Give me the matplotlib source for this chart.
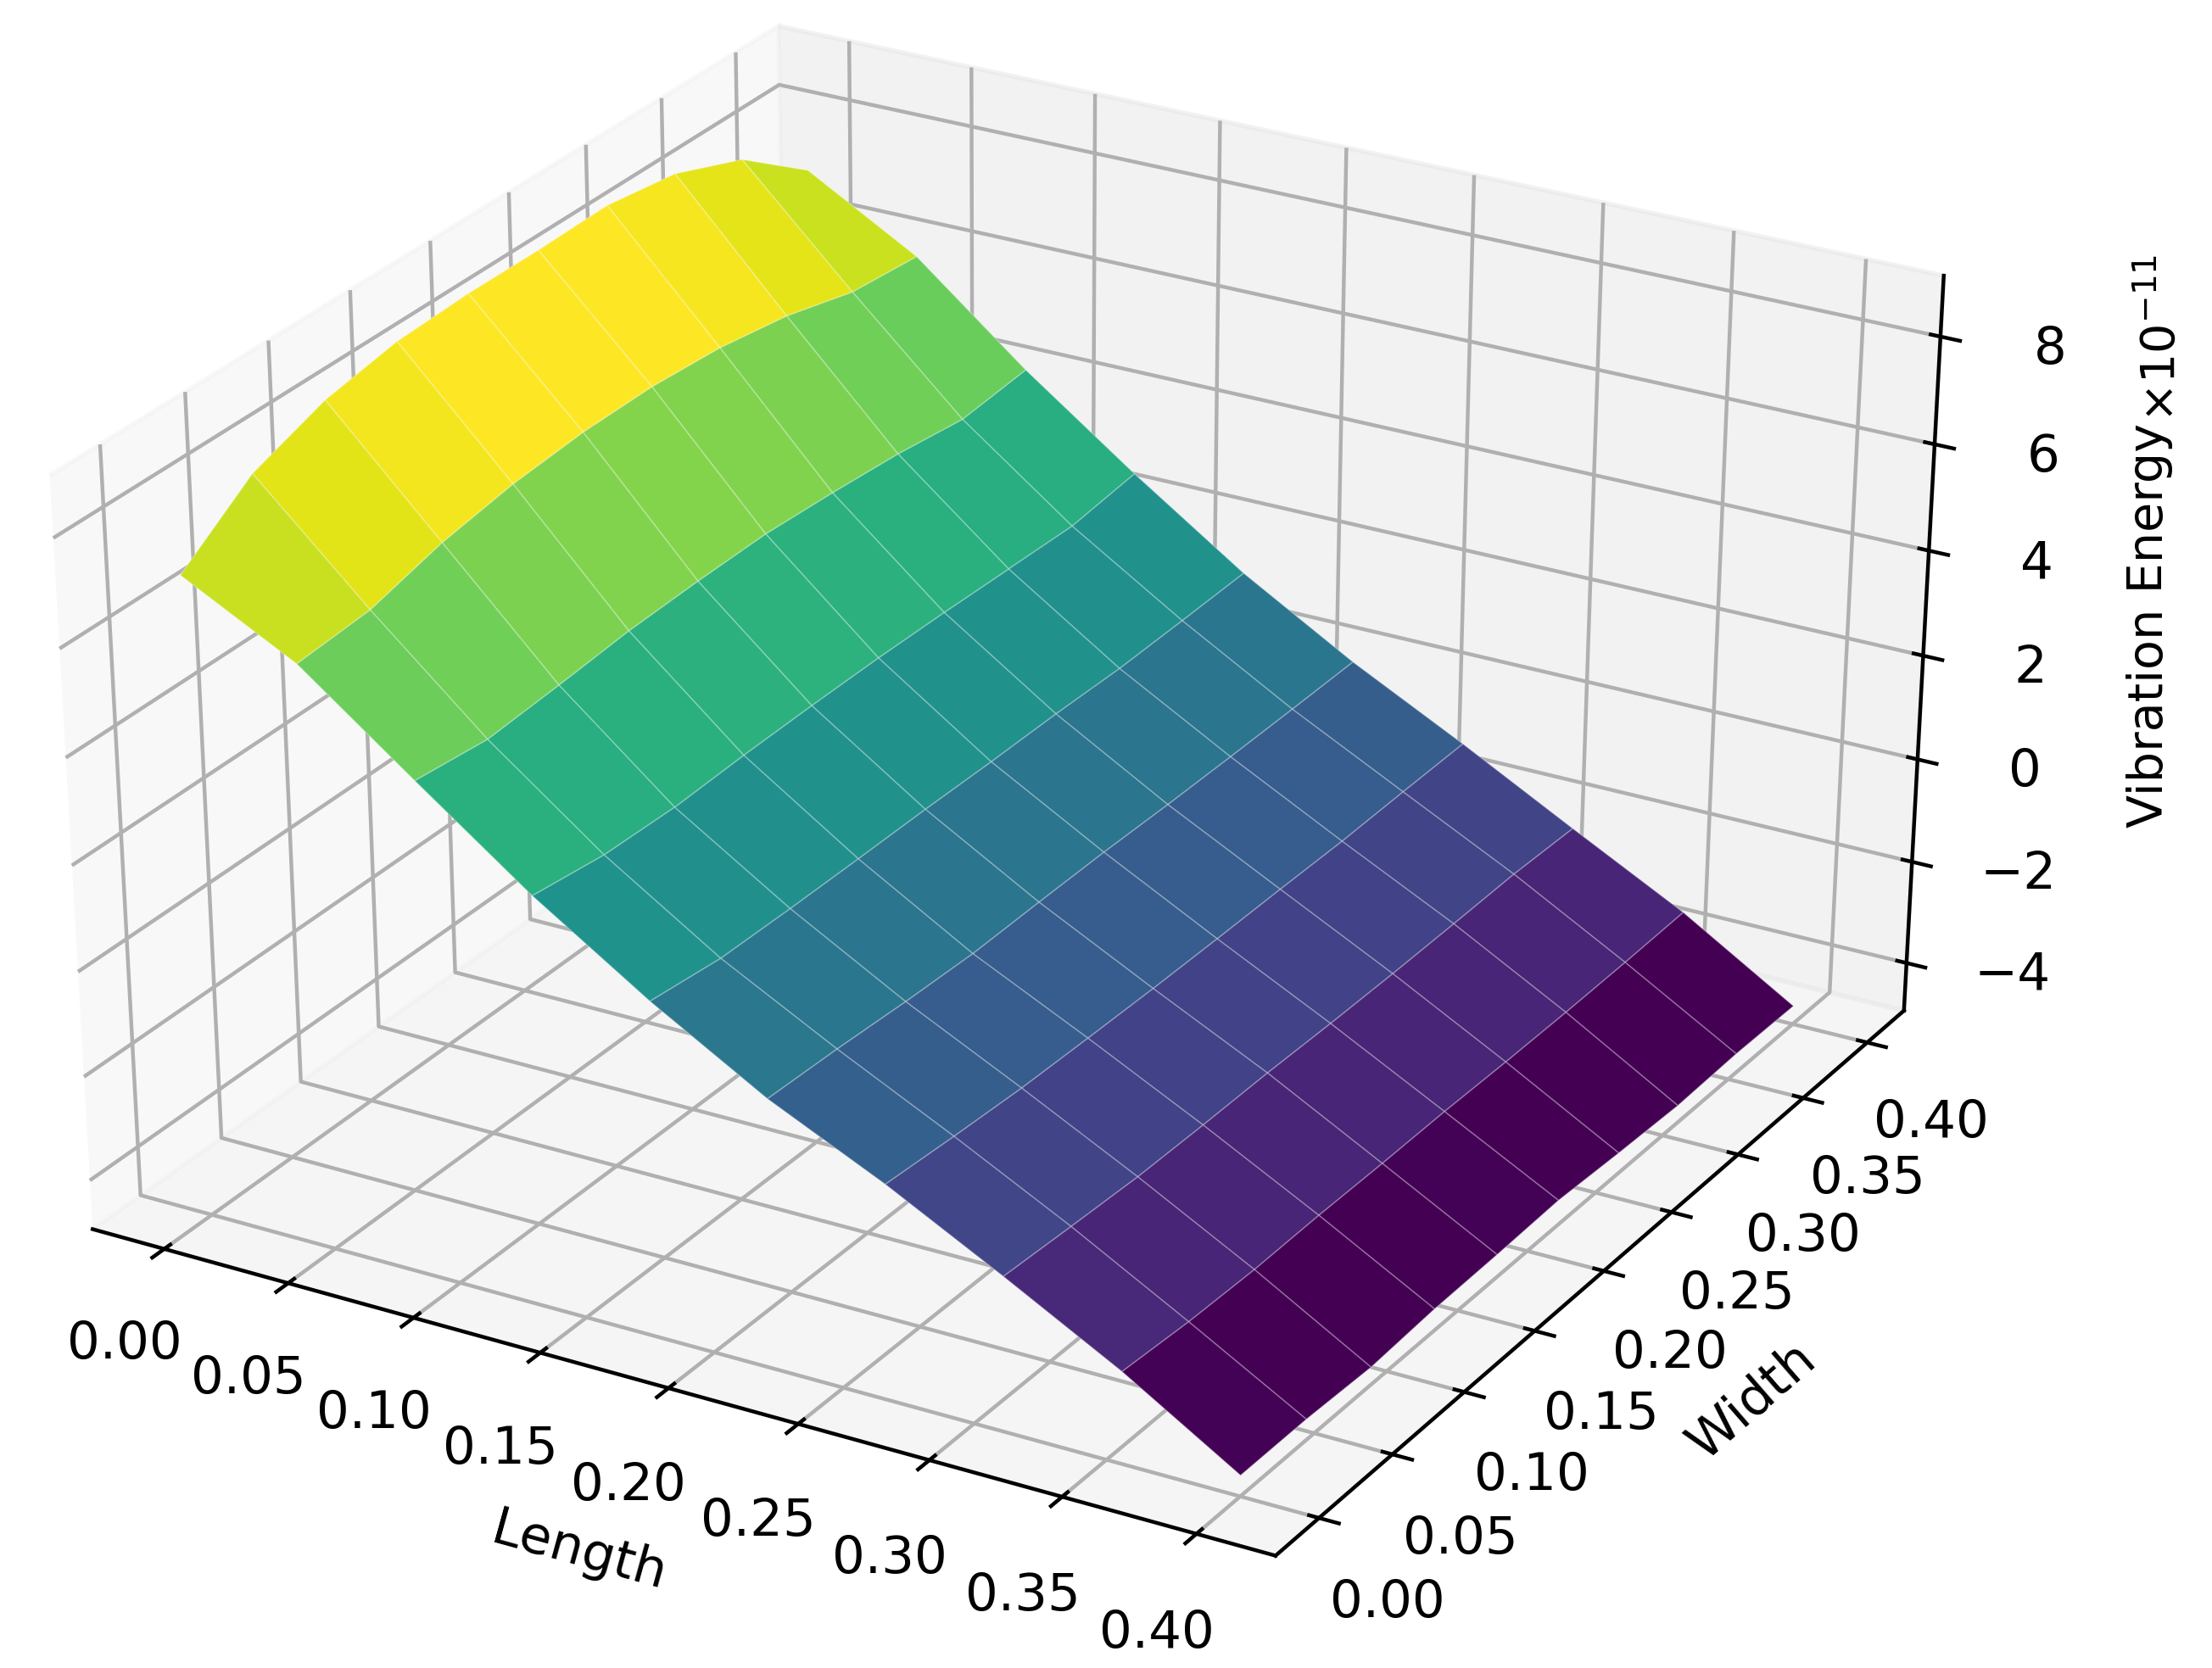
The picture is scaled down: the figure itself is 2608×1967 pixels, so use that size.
import numpy as np
from matplotlib import pyplot as plt

length = [0.0, 0.0444, 0.0889, 0.1333, 0.1778, 0.2222, 0.2667, 0.3111, 0.3556, 0.4]
width = [0.0, 0.0444, 0.0889, 0.1333, 0.1778, 0.2222, 0.2667, 0.3111, 0.3556, 0.4]

# energy (x 1e-11), one list per length value, running along width
energy_l0 = [7.09, 8.07, 8.56, 8.80, 8.86, 8.85, 8.88, 8.68, 8.16, 7.17]
energy_l1 = [5.99, 6.09, 6.45, 6.67, 6.78, 6.79, 6.69, 6.47, 6.11, 5.98]
energy_l2 = [4.38, 4.23, 4.33, 4.45, 4.50, 4.52, 4.44, 4.33, 4.15, 4.27]
energy_l3 = [2.80, 2.62, 2.58, 2.64, 2.67, 2.68, 2.66, 2.62, 2.58, 2.74]
energy_l4 = [1.40, 1.24, 1.22, 1.22, 1.23, 1.22, 1.23, 1.21, 1.25, 1.30]
energy_l5 = [0.15, 0.10, 0.02, -0.03, 0.00, 0.02, 0.01, 0.02, 0.04, 0.07]
energy_l6 = [-0.87, -0.97, -1.05, -1.08, -1.10, -1.10, -1.09, -1.09, -1.05, -1.02]
energy_l7 = [-2.01, -2.09, -2.16, -2.17, -2.16, -2.18, -2.18, -2.16, -2.13, -2.16]
energy_l8 = [-3.20, -3.30, -3.34, -3.32, -3.33, -3.32, -3.34, -3.34, -3.32, -3.28]
energy_l9 = [-4.55, -4.55, -4.61, -4.53, -4.51, -4.47, -4.55, -4.61, -4.57, -4.59]

xy_ticks = [0.00, 0.05, 0.10, 0.15, 0.20, 0.25, 0.30, 0.35, 0.40]
z_ticks = [-4, -2, 0, 2, 4, 6, 8]


def main():
    plt.rcParams['font.size'] = 11
    fig = plt.figure(figsize=(6.52, 4.9175), dpi=400)
    ax = fig.add_axes([-0.03, 0.0, 0.952, 1.067], projection='3d')
    # the picture is stretched sideways, so don't let mplot3d force a square box
    ax.apply_aspect = lambda position=None: None

    X, Y = np.meshgrid(length, width, indexing='ij')
    Z = np.array([energy_l0, energy_l1, energy_l2, energy_l3, energy_l4,
                  energy_l5, energy_l6, energy_l7, energy_l8, energy_l9])
    ax.plot_surface(X, Y, Z, cmap='viridis', rstride=1, cstride=1,
                    linewidth=0.3, edgecolor=(1, 1, 1, 0.25))
    ax.set_zlim(-4.95, 9.12, view_margin=0)

    ax.set_xticks(xy_ticks)
    ax.set_yticks(xy_ticks)
    ax.set_zticks(z_ticks)
    ax.tick_params(axis='x', pad=4)
    ax.tick_params(axis='y', pad=4)
    ax.tick_params(axis='z', pad=5)
    ax.set_xlabel('Length', labelpad=6)
    ax.set_ylabel('Width', labelpad=6)

    fig.text(0.972, 0.625, 'Vibration Energy', rotation=90,
             ha='center', va='center', fontsize=10.3)
    fig.text(0.977, 0.797, r'$\times10^{-11}$', rotation=90,
             ha='center', va='center', fontsize=10)

    fig.savefig('out.png')


if __name__ == '__main__':
    main()
